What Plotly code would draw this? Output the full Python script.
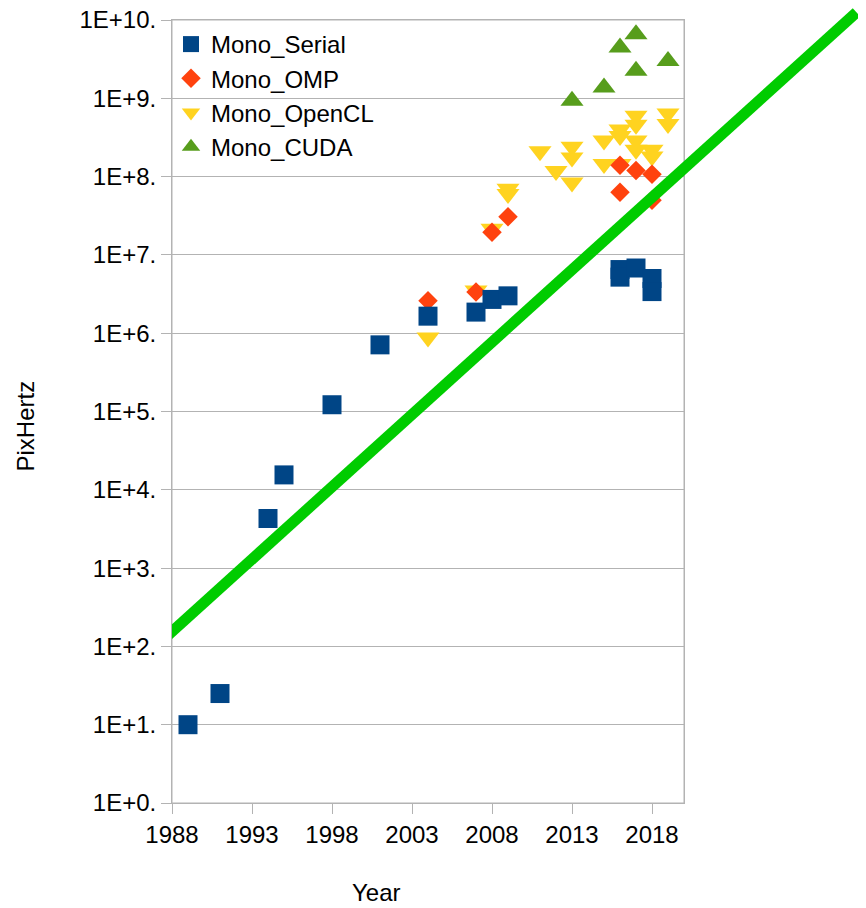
import plotly.graph_objects as go

# ---- data ----
serial_year = [1989, 1991, 1994, 1995, 1998, 2001, 2004, 2007, 2008, 2009, 2016, 2016, 2017, 2018, 2018]
serial_val = [10, 25, 4300, 15500, 122000, 710000, 1.65e6, 1.86e6, 2.7e6, 3.0e6, 6.5e6, 5.2e6, 6.8e6, 5.0e6, 3.4e6]

omp_year = [2004, 2007, 2008, 2009, 2016, 2016, 2017, 2018, 2018]
omp_val = [2.6e6, 3.35e6, 1.95e7, 3.06e7, 1.4e8, 6.3e7, 1.2e8, 1.07e8, 5.0e7]

opencl_year = [2004, 2007, 2008, 2009, 2009, 2011, 2012, 2013, 2013, 2013, 2015, 2015,
               2016, 2016, 2016, 2017, 2017, 2017, 2017, 2018, 2018, 2019, 2019]
opencl_val = [8.8e5, 3.5e6, 2.16e7, 7.0e7, 6.0e7, 2.1e8, 1.18e8, 2.4e8, 1.75e8, 8.4e7, 2.9e8, 1.45e8,
              4.0e8, 3.3e8, 1.45e8, 6.0e8, 4.6e8, 2.9e8, 2.2e8, 2.2e8, 1.8e8, 6.4e8, 4.7e8]

cuda_year = [2013, 2015, 2016, 2017, 2017, 2019]
cuda_val = [9.3e8, 1.37e9, 4.45e9, 6.6e9, 2.25e9, 3.0e9]

trend_year = [1987.58, 2030.78]
trend_val = [129, 1.25e10]

x_ticks = [1988, 1993, 1998, 2003, 2008, 2013, 2018]
y_tickvals = [10 ** k for k in range(11)]
y_ticktext = ["1E+%d." % k for k in range(11)]

# ---- figure (page has an 8px body margin, so figure coords = page - 8) ----
W, H = 866, 908
L, R, T, B = 164, 12, 0, 113
PW = W - L - R          # 690
PH = H - T - B          # 795
main_right = 676 - L    # 512
main_top = 795 - 12     # 783
xdom = main_right / PW
ydom = main_top / PH
px_per_year = main_right / 32.0

FONT = "Liberation Sans, Arial, sans-serif"
GRID = "#b3b3b3"

fig = go.Figure()

fig.add_trace(go.Scatter(x=cuda_year, y=cuda_val, mode="markers", name="Mono_CUDA",
                         marker=dict(symbol="triangle-up", size=20, color="#579d1c", line=dict(width=0))))
fig.add_trace(go.Scatter(x=opencl_year, y=opencl_val, mode="markers", name="Mono_OpenCL",
                         marker=dict(symbol="triangle-down", size=20, color="#ffd320", line=dict(width=0))))
fig.add_trace(go.Scatter(x=omp_year, y=omp_val, mode="markers", name="Mono_OMP",
                         marker=dict(symbol="diamond", size=15, color="#ff420e", line=dict(width=0))))
fig.add_trace(go.Scatter(x=serial_year, y=serial_val, mode="markers", name="Mono_Serial",
                         marker=dict(symbol="square", size=19, color="#004586", line=dict(width=0))))

fig.add_trace(go.Scatter(x=trend_year, y=trend_val, mode="lines", showlegend=False,
                         line=dict(color="#00cc00", width=11), xaxis="x2", yaxis="y2",
                         hoverinfo="skip"))

fig.update_layout(
    width=W, height=H,
    margin=dict(l=L, r=R, t=T, b=B, pad=0, autoexpand=False),
    paper_bgcolor="white", plot_bgcolor="rgba(0,0,0,0)",
    font=dict(family=FONT, size=24, color="black"),
    showlegend=True,
    legend=dict(x=(163 - L) / PW, y=(795 - 14) / PH, xanchor="left", yanchor="top",
                traceorder="reversed", bgcolor="rgba(0,0,0,0)",
                font=dict(family=FONT, size=24, color="black"),
                tracegroupgap=0, itemsizing="trace"),
    xaxis=dict(domain=[0, xdom], range=[1988, 2020], tickmode="array", tickvals=x_ticks,
               showgrid=False, zeroline=False, showline=True, linecolor=GRID, linewidth=1,
               mirror=True, ticks="outside", ticklen=10, tickcolor=GRID, automargin=False,
               ticklabeloverflow="allow",
               tickfont=dict(family=FONT, size=24, color="black")),
    yaxis=dict(domain=[0, ydom], type="log", range=[0, 10], tickmode="array",
               tickvals=y_tickvals, ticktext=y_ticktext,
               showgrid=True, gridcolor=GRID, gridwidth=1, zeroline=False,
               showline=True, linecolor=GRID, linewidth=1, mirror=True,
               ticks="outside", ticklen=10, tickcolor=GRID, automargin=False,
               ticklabeloverflow="allow",
               tickfont=dict(family=FONT, size=24, color="black")),
    xaxis2=dict(domain=[0, 1], range=[1988, 1988 + PW / px_per_year],
                anchor="y2", visible=False, showgrid=False, zeroline=False, automargin=False),
    yaxis2=dict(domain=[0, 1], type="log", range=[0, 10 * PH / main_top],
                anchor="x2", visible=False, showgrid=False, zeroline=False, automargin=False),
    shapes=[
        dict(type="rect", xref="x domain", yref="y domain", x0=0, x1=1, y0=0, y1=1,
             line=dict(color=GRID, width=1), fillcolor="rgba(0,0,0,0)", layer="below"),
    ],
    annotations=[
        dict(text="Year", xref="paper", yref="paper", x=(368.7 - L) / PW, y=(795 - 884) / PH,
             xanchor="center", yanchor="middle", showarrow=False,
             font=dict(family=FONT, size=24, color="black")),
        dict(text="PixHertz", xref="paper", yref="paper", x=(17 - L) / PW, y=(795 - 418.5) / PH,
             xanchor="center", yanchor="middle", showarrow=False, textangle=-90,
             font=dict(family=FONT, size=24, color="black")),
    ],
)

fig.write_html("out.html")
